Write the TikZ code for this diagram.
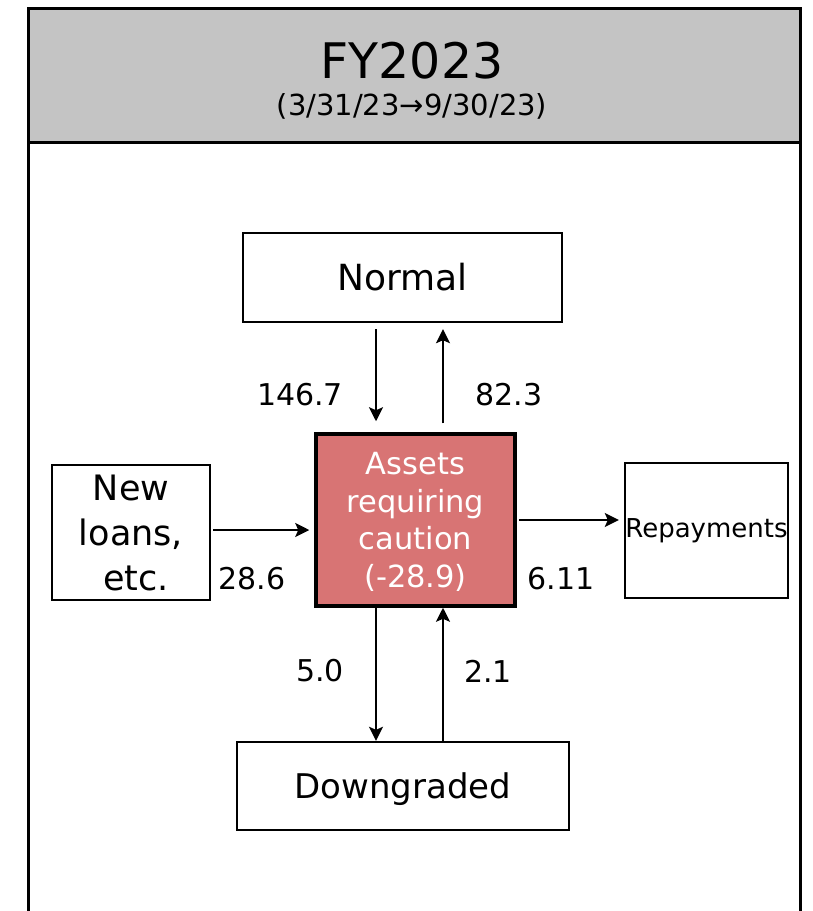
\documentclass[tikz,border=0pt]{standalone}
\usepackage{fontspec}
\setmainfont{DejaVu Sans}
\usetikzlibrary{arrows.meta}

\begin{document}
\begin{tikzpicture}[x=1pt, y=-1pt,
	box/.style={draw, line width=2.4pt, inner sep=0pt, align=center},
	flow/.style={-{Stealth[length=14pt, width=14pt, inset=3pt]}, line width=2pt},
	num/.style={font=\fontsize{30}{36}\selectfont, inner sep=0pt}]
	\useasboundingbox (0,0) rectangle (812,911);
	% header band and frame
	\fill[fill={rgb,255:red,196;green,196;blue,196}] (28,8) rectangle (800,142);
	\draw[line width=3pt] (28,911) -- (28,8) -- (800,8) -- (800,911);
	\draw[line width=3pt] (28,142) -- (800,142);
	\node[inner sep=0pt, font=\fontsize{49}{55}\selectfont] (title) at (412,61) {FY2023};
	\node[inner sep=0pt, font=\fontsize{29}{34}\selectfont] (period) at (412,106) {(3/31/23→9/30/23)};
	% boxes
	\node[box, minimum width=319, minimum height=89, font=\fontsize{36}{42}\selectfont] (normal) at (402.5,277.5) {Normal};
	\node[box, line width=3.5pt, minimum width=199, minimum height=172, fill={rgb,255:red,216;green,116;blue,116}, text=white, font=\fontsize{30.5}{37.5}\selectfont, text depth=-4pt] (caution) at (415.5,520) {Assets\\requiring\\caution\\(-28.9)};
	\node[box, minimum width=158, minimum height=135, font=\fontsize{35}{45}\selectfont] (newloans) at (131,532.5) {New\hspace{12pt}\\loans,\\\hspace{10pt}etc.};
	\node[box, minimum width=163, minimum height=135, font=\fontsize{26}{30}\selectfont] (repay) at (706.5,530.5) {Repayments};
	\node[box, minimum width=332, minimum height=88, font=\fontsize{34}{40}\selectfont, text depth=-3pt] (down) at (403,786) {Downgraded};
	% arrow columns
	\coordinate (lcol) at (376,0);
	\coordinate (rcol) at (443,0);
	\draw[flow, shorten <=6pt, shorten >=11pt] (normal.south -| lcol) -- (caution.north -| lcol);
	\draw[flow, shorten <=9pt, shorten >=6pt] (caution.north -| rcol) -- (normal.south -| rcol);
	\draw[flow, shorten <=2pt, shorten >=5pt] (newloans.east |- 0,530) -- (caution.west |- 0,530);
	\draw[flow, shorten <=2pt, shorten >=5pt] (caution.east |- 0,520) -- (repay.west |- 0,520);
	\draw[flow] (caution.south -| lcol) -- (down.north -| lcol);
	\draw[flow] (down.north -| rcol) -- (caution.south -| rcol);
	% amounts
	\node[num] (n1) at (300,395) {146.7};
	\node[num] (n2) at (509,395) {82.3};
	\node[num] (n3) at (252,579) {28.6};
	\node[num] (n4) at (561,579) {6.11};
	\node[num] (n5) at (320,671) {5.0};
	\node[num] (n6) at (488,671) {2.1};
\end{tikzpicture}
\end{document}
